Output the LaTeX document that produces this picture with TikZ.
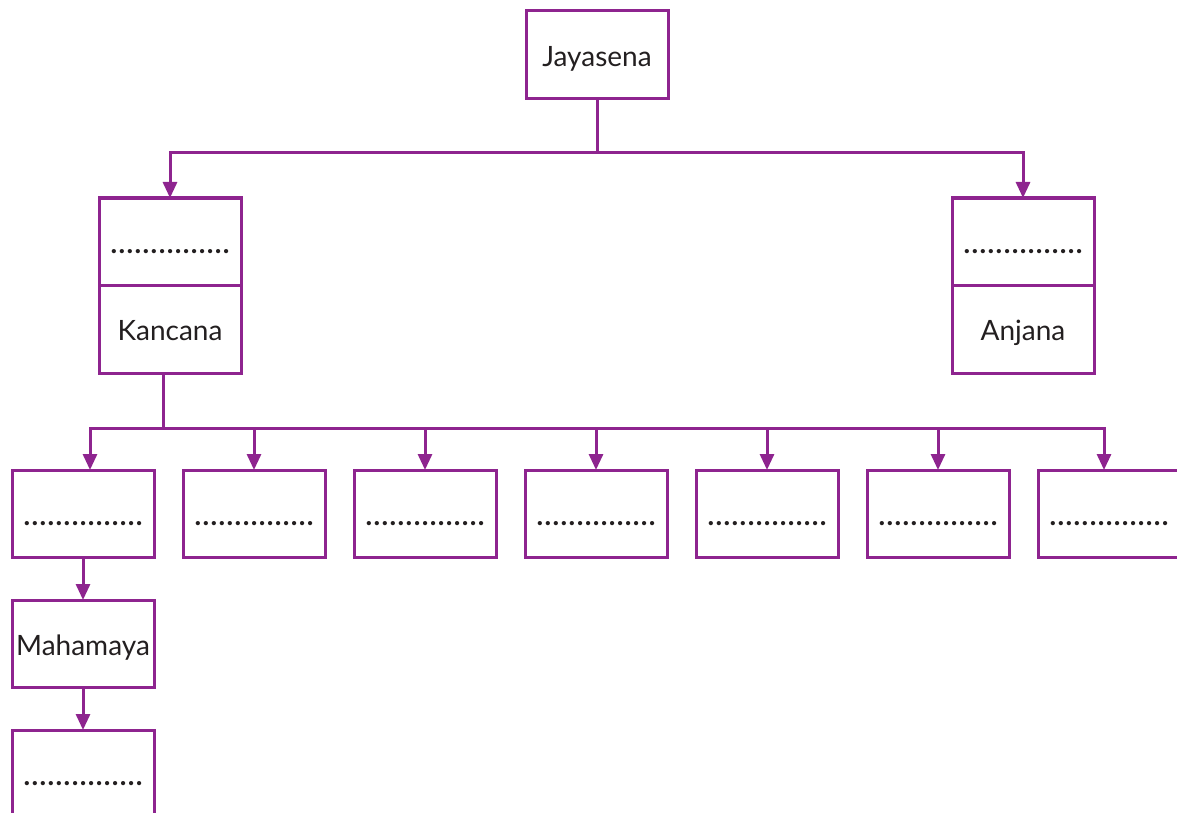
\documentclass[tikz,border=0pt]{standalone}
\usepackage{fontspec}
\setmainfont{Lato}
\usetikzlibrary{arrows.meta}
\definecolor{pur}{RGB}{142,36,143}
\definecolor{ink}{RGB}{35,31,32}
\newcommand\blankdots{{\bfseries\hbox to 120pt{\xleaders\hbox to 8pt{\hss.\hss}\hfill}}}
\begin{document}
\begin{tikzpicture}[x=1pt,y=-1pt,
  box/.style={draw=pur, line width=3pt, minimum width=142pt, minimum height=87.5pt,
    inner sep=0pt, outer sep=0pt, text=ink, font=\fontsize{28}{33}\selectfont,
    text height=23pt, text depth=0pt, anchor=north west},
  conn/.style={draw=pur, line width=3pt},
  arr/.style={conn, -{Triangle[length=16pt,width=14pt]}}]
\useasboundingbox (0,0) rectangle (1177,813);
\clip (0,0) rectangle (1177,813);
\node[box] (jay) at (526,11) {Jayasena};
\node[box] (lt) at (99,198) {\blankdots};
\node[box] (kan) at (99,285.5) {Kancana};
\node[box] (rt) at (952,198) {\blankdots};
\node[box] (anj) at (952,285.5) {Anjana};
\node[box] (b1) at (12,470) {\blankdots};
\node[box] (b2) at (183,470) {\blankdots};
\node[box] (b3) at (354,470) {\blankdots};
\node[box] (b4) at (525,470) {\blankdots};
\node[box] (b5) at (696,470) {\blankdots};
\node[box] (b6) at (867,470) {\blankdots};
\node[box] (b7) at (1038,470) {\blankdots};
\node[box] (mah) at (12,600) {Mahamaya};
\node[box] (last) at (12,730) {\blankdots};
\coordinate (jb) at (597,153);
\draw[conn] (jay.south) -- (jb);
\draw[arr] (jb) -| (lt.north);
\draw[arr] (jb) -| (rt.north);
\coordinate (kb) at (163,428);
\draw[conn] ([xshift=-7pt]kan.south) -- (kb);
\draw[arr] (kb) -| ([xshift=7pt]b1.north);
\draw[arr] (kb) -| (b2.north);
\draw[arr] (kb) -| (b3.north);
\draw[arr] (kb) -| (b4.north);
\draw[arr] (kb) -| (b5.north);
\draw[arr] (kb) -| (b6.north);
\draw[arr] (kb) -| ([xshift=-5pt]b7.north);
\draw[arr] (b1.south) -- (mah.north);
\draw[arr] (mah.south) -- (last.north);
\end{tikzpicture}
\end{document}
